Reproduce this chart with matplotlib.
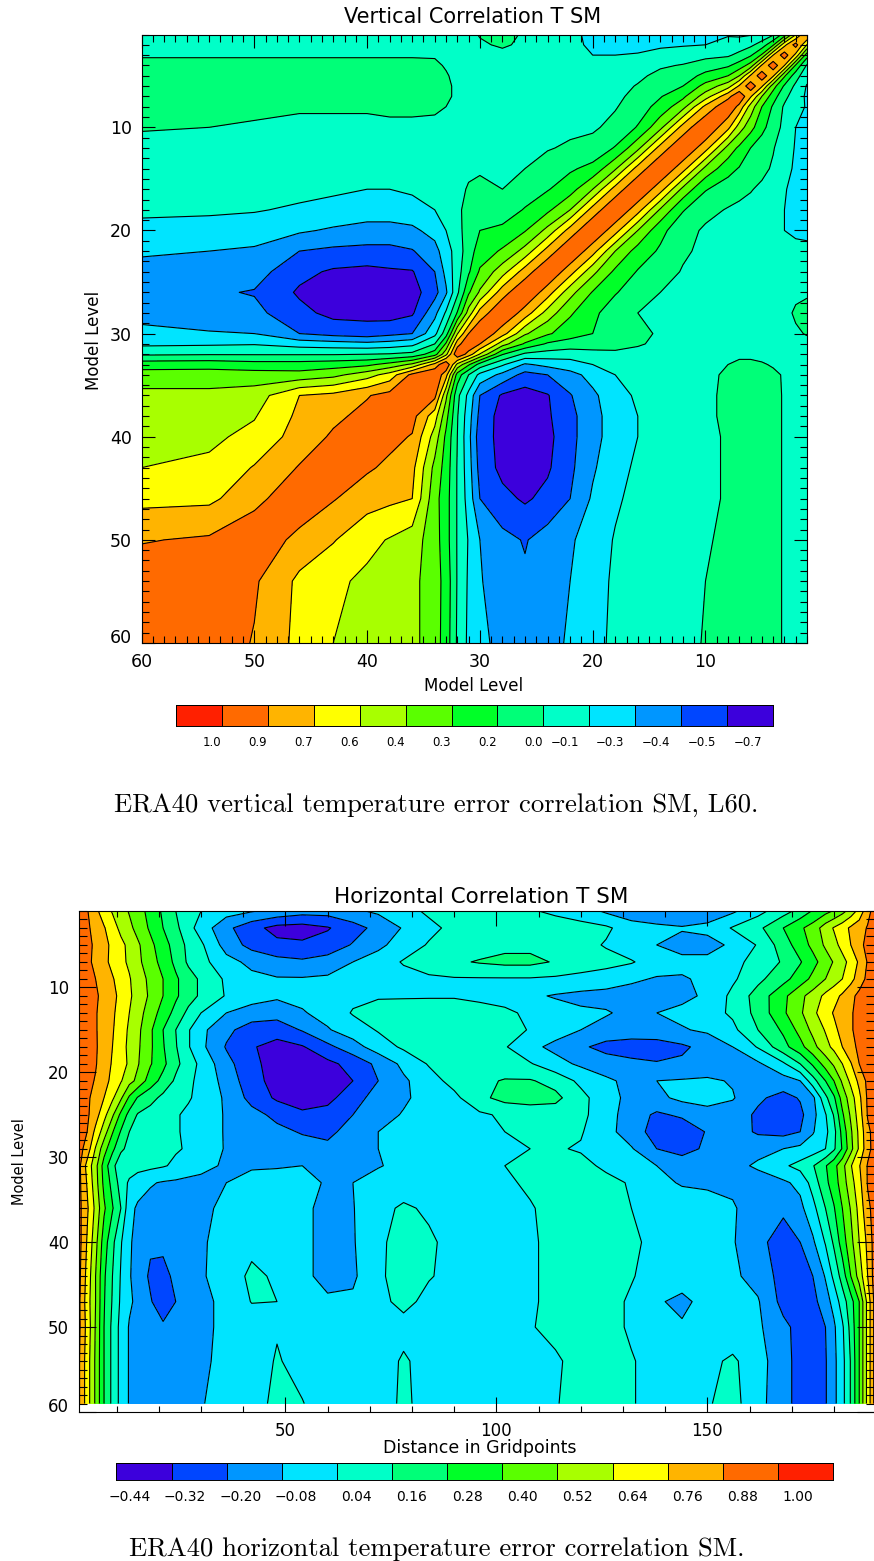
import numpy as np
import matplotlib
matplotlib.use("Agg")
import matplotlib.pyplot as plt
from matplotlib.colors import ListedColormap, BoundaryNorm
from matplotlib.ticker import FixedLocator

W, H = 874, 1561
band_colors = ['#3c00dc', '#0046ff', '#0096ff', '#00e4ff', '#00ffc8', '#00ff78', '#00ff28',
               '#5aff00', '#a8ff00', '#ffff00', '#ffb400', '#ff6a00', '#ff2000']

# ---- vertical correlation (symmetric: rows give x = level <= y)
vert_nodes = [1,2,3,4,5,6,7,8,10,12,14,16,18,20,22,24,26,28,30,31,32,33,34,36,38,40,43,46,50,54,60]
vert_levels = [-.70,-.56,-.42,-.28,-.14,0,.14,.28,.42,.56,.70,.84,.98,1.1]
vert_labels = ['1.0','0.9','0.7','0.6','0.4','0.3','0.2','0.0','\u22120.1','\u22120.3','\u22120.4','\u22120.5','\u22120.7']
vert_rows = [
 [.86],
 [.55,.90],
 [.20,.66,.92],
 [-.02,.26,.70,.93],
 [-.10,.06,.30,.72,.93],
 [-.15,-.03,.12,.34,.72,.93],
 [-.16,-.08,.04,.20,.42,.72,.95],
 [-.15,-.10,-.02,.12,.28,.50,.80,.95],
 [-.15,-.14,-.04,.07,.18,.33,.49,.74,.97],
 [-.18,-.15,-.08,.01,.07,.14,.25,.37,.76,.97],
 [-.19,-.16,-.10,-.02,.04,.08,.13,.19,.38,.76,.97],
 [-.20,-.18,-.13,-.07,-.03,.01,.04,.07,.15,.38,.76,.97],
 [-.20,-.20,-.14,-.11,-.08,-.05,-.03,-.01,.04,.15,.40,.76,.97],
 [-.16,-.16,-.14,-.11,-.09,-.07,-.06,-.05,-.02,.05,.18,.42,.76,.97],
 [-.12,-.11,-.10,-.09,-.08,-.07,-.06,-.05,-.03,.02,.12,.22,.42,.76,.97],
 [-.07,-.07,-.07,-.08,-.07,-.06,-.05,-.05,-.04,-.01,.06,.13,.25,.46,.76,.97],
 [-.02,-.03,-.04,-.05,-.05,-.05,-.05,-.05,-.05,-.04,.00,.07,.15,.27,.47,.77,.97],
 [.05,.02,-.04,-.06,-.06,-.06,-.06,-.06,-.06,-.05,-.03,.00,.07,.17,.30,.50,.78,.97],
 [.01,-.02,-.04,-.05,-.06,-.07,-.07,-.07,-.06,-.04,-.01,.02,.09,.14,.20,.30,.44,.76,.97],
 [-.04,-.05,-.05,-.06,-.06,-.07,-.07,-.07,-.06,-.04,-.02,.01,.05,.07,.08,.12,.26,.48,.84,.97],
 [-.05,-.05,-.05,-.04,-.03,-.02,-.02,-.03,-.05,-.05,-.04,-.03,-.03,-.05,-.08,-.06,-.03,.15,.55,.78,.97],
 [-.05,-.04,-.03,-.01,.01,.02,.02,.00,-.04,-.05,-.06,-.06,-.09,-.14,-.20,-.24,-.30,-.12,.08,.30,.52,.97],
 [-.05,-.03,-.01,.02,.04,.05,.04,.02,-.03,-.05,-.07,-.09,-.14,-.23,-.33,-.42,-.47,-.32,-.18,.00,.22,.75,.97],
 [-.05,-.03,-.01,.03,.05,.06,.05,.03,-.03,-.06,-.09,-.12,-.19,-.31,-.43,-.57,-.62,-.58,-.42,-.18,.04,.45,.88,.97],
 [-.05,-.03,-.01,.03,.05,.06,.05,.02,-.02,-.06,-.10,-.14,-.21,-.33,-.46,-.58,-.63,-.62,-.46,-.22,.01,.33,.62,.89,.97],
 [-.05,-.03,-.01,.03,.05,.06,.05,.01,-.02,-.06,-.10,-.14,-.21,-.33,-.46,-.60,-.63,-.60,-.50,-.24,.00,.25,.50,.83,.88,.97],
 [-.05,-.03,-.01,.03,.05,.06,.05,.01,-.02,-.05,-.09,-.12,-.18,-.30,-.45,-.58,-.63,-.60,-.47,-.22,-.01,.22,.38,.74,.81,.86,.96],
 [-.05,-.03,-.01,.03,.05,.06,.04,.01,-.02,-.05,-.08,-.10,-.16,-.26,-.42,-.52,-.58,-.52,-.42,-.20,-.01,.20,.33,.70,.73,.76,.85,.96],
 [-.05,-.03,-.01,.03,.05,.06,.05,.02,-.01,-.04,-.07,-.09,-.13,-.21,-.30,-.36,-.43,-.38,-.28,-.15,-.01,.20,.34,.49,.55,.60,.71,.79,.96],
 [-.05,-.03,-.01,.03,.05,.06,.05,.03,.00,-.04,-.07,-.09,-.12,-.19,-.28,-.34,-.40,-.35,-.27,-.16,-.01,.23,.34,.46,.50,.53,.59,.67,.86,.96],
 [-.05,-.03,-.01,.03,.05,.06,.05,.04,.01,-.04,-.07,-.09,-.12,-.17,-.26,-.33,-.38,-.33,-.24,-.17,-.02,.22,.34,.46,.50,.53,.56,.66,.83,.93,.97],
]

# ---- horizontal correlation
horiz_levels = [-.44,-.32,-.20,-.08,.04,.16,.28,.40,.52,.64,.76,.88,1.0,1.1]
horiz_labels = ['\u22120.44','\u22120.32','\u22120.20','\u22120.08','0.04','0.16','0.28','0.40','0.52','0.64','0.76','0.88','1.00']
horiz_dist = [1,3,5,7,9,11,13,15,18,21,24,27,30,36,42,48,54,60,66,72,78,84,90,96,102,108,114,120,126,132,138,144,150,156,162,168,172,175,178,180,182,184,186,188,189.5]
horiz_level = [1,3,5,7,9,11,13,15,17,19,21,23,25,27,29,31,33,36,40,44,47,50,54,59]
horiz_vals = [
 [.96,.89,.79,.70,.63,.57,.51,.45,.36,.26,.16,.10,.04,-.03,-.07,-.11,-.15,-.15,-.10,-.06,.00,.06,.09,.10,.08,.05,.02,-.02,-.10,-.16,-.18,-.18,-.15,-.10,.00,.11,.20,.29,.36,.41,.48,.57,.68,.84,.92],
 [.95,.90,.84,.77,.69,.61,.55,.48,.38,.28,.19,.08,-.01,-.17,-.28,-.36,-.37,-.33,-.25,-.16,-.07,.01,.07,.09,.10,.10,.09,.08,.06,-.02,-.05,-.07,-.05,.05,.13,.28,.38,.45,.58,.65,.71,.78,.83,.89,.93],
 [.94,.91,.86,.80,.73,.67,.61,.54,.43,.33,.23,.13,.06,-.13,-.24,-.29,-.30,-.27,-.19,-.11,-.02,.05,.08,.10,.13,.13,.11,.08,.03,-.03,-.08,-.12,-.12,-.06,.05,.22,.34,.43,.54,.60,.68,.76,.84,.92,.95],
 [.95,.91,.85,.79,.73,.67,.62,.55,.45,.36,.25,.14,.08,-.04,-.11,-.16,-.18,-.15,-.08,-.02,.05,.10,.14,.17,.19,.19,.15,.11,.08,.05,-.02,-.05,-.05,-.01,.10,.17,.27,.36,.46,.53,.60,.68,.78,.89,.95],
 [.95,.92,.88,.82,.77,.71,.65,.58,.49,.40,.30,.21,.14,.02,-.05,-.07,-.07,-.06,-.04,-.02,.00,.02,.03,.03,.03,.03,.02,.00,-.02,-.06,-.09,-.09,-.06,.02,.13,.24,.34,.43,.52,.58,.64,.72,.82,.91,.96],
 [.96,.93,.90,.84,.79,.73,.66,.59,.50,.40,.30,.21,.14,.03,-.03,-.06,-.05,-.02,.01,.03,.03,.03,.03,.01,-.02,-.06,-.09,-.11,-.12,-.13,-.13,-.11,-.06,.07,.21,.37,.49,.57,.67,.72,.78,.85,.91,.94,.96],
 [.96,.93,.89,.83,.78,.71,.64,.57,.46,.35,.24,.13,.04,-.08,-.13,-.15,-.09,-.04,.05,.08,.09,.10,.10,.09,.07,.01,-.03,-.06,-.07,-.11,-.08,-.05,-.01,.06,.20,.38,.50,.61,.71,.77,.82,.87,.91,.94,.96],
 [.96,.93,.89,.83,.77,.70,.62,.55,.42,.28,.16,.05,-.05,-.17,-.26,-.27,-.19,-.09,-.02,.05,.08,.10,.11,.11,.10,.03,-.03,-.08,-.12,-.13,-.12,-.09,-.06,.01,.16,.30,.44,.55,.65,.73,.80,.87,.91,.94,.96],
 [.96,.93,.89,.84,.76,.69,.61,.54,.42,.29,.17,.05,-.05,-.21,-.31,-.36,-.33,-.23,-.13,-.02,.06,.10,.11,.09,.05,-.05,-.11,-.18,-.24,-.26,-.26,-.22,-.16,-.08,.05,.24,.36,.48,.60,.67,.76,.85,.90,.94,.96],
 [.96,.92,.89,.81,.75,.69,.62,.53,.41,.31,.19,.10,.01,-.16,-.29,-.37,-.39,-.35,-.28,-.17,-.05,.05,.09,.09,.08,.05,-.04,-.10,-.14,-.17,-.19,-.18,-.16,-.13,-.10,.02,.16,.30,.45,.54,.64,.75,.88,.93,.96],
 [.95,.92,.87,.80,.73,.65,.56,.49,.34,.24,.14,.07,.00,-.12,-.28,-.36,-.41,-.39,-.32,-.20,-.10,-.01,.08,.13,.17,.17,.12,.01,-.06,-.11,-.08,-.07,-.06,-.09,-.13,-.13,-.08,.11,.28,.40,.54,.67,.79,.91,.95],
 [.94,.90,.84,.76,.66,.54,.38,.27,.20,.13,.09,.05,.01,-.10,-.24,-.34,-.42,-.36,-.24,-.16,-.10,-.03,.01,.13,.20,.21,.19,.08,-.04,-.11,-.11,-.05,-.04,-.07,-.18,-.24,-.19,-.11,.13,.26,.45,.58,.73,.90,.95],
 [.94,.90,.81,.68,.54,.37,.24,.15,.11,.08,.05,.02,-.02,-.09,-.16,-.23,-.28,-.27,-.20,-.13,-.07,-.04,-.01,.02,.06,.09,.10,.07,-.03,-.14,-.22,-.18,-.12,-.14,-.22,-.27,-.23,-.12,.03,.17,.38,.54,.70,.89,.93],
 [.93,.88,.73,.58,.41,.27,.16,.13,.10,.07,.05,.02,-.02,-.09,-.14,-.17,-.21,-.23,-.15,-.08,-.06,-.04,-.02,.01,.04,.08,.09,.05,-.04,-.14,-.25,-.28,-.19,-.13,-.22,-.24,-.20,-.09,.01,.12,.32,.50,.67,.85,.92],
 [.93,.83,.63,.45,.31,.18,.13,.11,.09,.07,.05,.03,-.01,-.09,-.12,-.14,-.15,-.17,-.14,-.08,-.06,-.04,-.02,.00,.02,.04,.05,.03,-.03,-.07,-.20,-.26,-.17,-.11,-.10,-.08,-.05,-.02,.04,.14,.29,.48,.66,.84,.92],
 [.92,.72,.56,.35,.19,.09,.10,.08,.07,.05,.02,-.02,-.06,-.09,-.09,-.09,-.08,-.09,-.09,-.085,-.06,-.04,-.02,.01,.04,.07,.08,.07,.02,-.05,-.08,-.11,-.11,-.10,-.07,.02,.08,.15,.27,.36,.48,.63,.75,.89,.92],
 [.92,.75,.57,.37,.24,.11,.02,-.02,-.07,-.09,-.10,-.11,-.10,-.08,-.05,-.03,-.05,-.09,-.08,-.05,-.03,-.02,-.01,.00,.02,.06,.08,.09,.07,.03,-.05,-.09,-.10,-.10,-.11,-.10,-.05,.09,.25,.34,.46,.59,.72,.89,.92],
 [.92,.78,.61,.42,.29,.16,-.04,-.10,-.12,-.13,-.13,-.12,-.10,-.06,-.04,-.03,-.05,-.12,-.085,.00,.06,.02,-.01,.00,.01,.03,.08,.10,.11,.04,.00,-.02,-.03,-.07,-.13,-.18,-.11,.00,.16,.27,.40,.53,.68,.85,.92],
 [.93,.75,.56,.34,.19,.05,-.06,-.13,-.18,-.17,-.15,-.12,-.09,-.05,.00,-.01,-.05,-.12,-.09,.02,.08,.06,.00,-.01,.00,.02,.08,.12,.12,.06,.01,-.01,-.03,-.07,-.17,-.25,-.20,-.10,.05,.18,.34,.48,.64,.79,.92],
 [.92,.72,.52,.30,.16,.03,-.07,-.13,-.22,-.24,-.17,-.12,-.09,-.04,.07,.02,-.05,-.12,-.10,.02,.09,.05,.00,-.01,.00,.02,.08,.13,.12,.05,-.02,-.04,-.05,-.06,-.12,-.25,-.29,-.20,-.07,.07,.21,.40,.57,.76,.92],
 [.91,.70,.52,.29,.15,.02,-.06,-.11,-.19,-.27,-.20,-.14,-.11,-.05,.045,.04,-.05,-.06,-.06,.00,.08,.00,-.03,-.03,-.01,.02,.08,.10,.09,.02,-.07,-.10,-.05,-.05,-.07,-.24,-.26,-.24,-.13,-.04,.10,.23,.40,.68,.89],
 [.91,.72,.51,.28,.13,.00,-.09,-.12,-.16,-.18,-.16,-.13,-.11,-.05,-.03,.03,-.03,-.05,-.05,-.02,-.01,-.02,-.03,-.03,-.01,.03,.08,.10,.09,.02,-.04,-.07,-.04,-.04,-.06,-.17,-.24,-.26,-.20,-.10,.02,.20,.40,.68,.89],
 [.90,.70,.50,.28,.13,.00,-.09,-.11,-.14,-.15,-.14,-.13,-.10,-.05,-.02,.05,.00,-.03,-.03,-.04,.06,-.02,-.03,-.03,-.02,-.01,.02,.09,.09,.05,-.01,-.02,.01,.06,-.03,-.16,-.24,-.26,-.21,-.11,.00,.17,.40,.68,.89],
 [.90,.70,.50,.28,.13,.00,-.09,-.11,-.13,-.14,-.13,-.12,-.085,-.05,-.01,.07,.045,-.02,-.03,-.04,.07,-.02,-.03,-.03,-.02,-.01,.03,.10,.10,.05,-.01,-.01,.03,.08,-.04,-.16,-.24,-.26,-.21,-.11,.00,.17,.40,.68,.89],
]


def fx(p):
    return p / W


def fy(p):
    return 1 - p / H


def add_axes(l, t, r, b):
    return fig.add_axes([fx(l), fy(b), (r - l) / W, (b - t) / H])


def colorbar(l, t, r, b, colors, labels, offs_neg, offs_pos, size):
    ax = add_axes(l, t, r, b)
    n = len(colors)
    cmap = ListedColormap(colors)
    ax.pcolormesh(np.arange(n + 1), [0, 1], np.arange(n)[None, :], cmap=cmap,
                  norm=BoundaryNorm(np.arange(n + 1) - .5, n), edgecolors='k', linewidth=0.7)
    pos = [i + (offs_neg if lab.startswith('\u2212') else offs_pos) for i, lab in enumerate(labels)]
    ax.set_xticks(pos, labels, fontsize=size)
    ax.set_yticks([])
    ax.tick_params(axis='x', length=0, pad=7)
    ax.set_xlim(0, n)
    ax.set_ylim(0, 1)
    for s in ax.spines.values():
        s.set_linewidth(.7)
    return ax


plt.rcParams['font.family'] = ['DejaVu Sans']
fig = plt.figure(figsize=(W / 100, H / 100), dpi=100)

# ---- chart 1
ax1 = add_axes(141.5, 34.5, 807, 643)
n = len(vert_nodes)
M = np.zeros((n, n))
for i, row in enumerate(vert_rows):
    M[i, :i + 1] = row
    M[:i + 1, i] = row
ax1.contourf(vert_nodes, vert_nodes, M, levels=vert_levels, colors=band_colors)
ax1.contour(vert_nodes, vert_nodes, M, levels=vert_levels[1:-1], colors='k', linewidths=0.8,
            negative_linestyles='solid')
ax1.set_xlim(60, 1)
ax1.set_ylim(60, 1)
ax1.set_xticks([60, 50, 40, 30, 20, 10])
ax1.set_yticks([10, 20, 30, 40, 50, 60])
ax1.xaxis.set_minor_locator(FixedLocator(np.arange(1, 61)))
ax1.yaxis.set_minor_locator(FixedLocator(np.arange(1, 61)))
ax1.tick_params(which='major', direction='in', length=9.5, width=.8, top=True, right=True, labelsize=12.5, pad=7)
ax1.tick_params(which='minor', direction='in', length=5, width=.8, top=True, right=True)
ax1.get_yticklabels()[-1].set_verticalalignment('baseline')
fig.text(fx(473), fy(17), 'Vertical Correlation T SM', ha='center', va='center', fontsize=15)
fig.text(fx(474), fy(686), 'Model Level', ha='center', va='center', fontsize=12)
fig.text(fx(94), fy(340), 'Model Level', ha='center', va='center', rotation=90, fontsize=12)
colorbar(176, 705, 773, 726, band_colors[::-1], vert_labels, .46, .78, 8.5)
fig.text(fx(436), fy(805), 'ERA40 vertical temperature error correlation SM, L60.',
         ha='center', va='center', fontsize=19.2, family='cmr10')

# ---- chart 2
ax2 = add_axes(78.7, 911, 874, 1412)
ax2.contourf(horiz_dist, horiz_level, horiz_vals, levels=horiz_levels, colors=band_colors)
ax2.contour(horiz_dist, horiz_level, horiz_vals, levels=horiz_levels[1:-1], colors='k', linewidths=0.8,
            negative_linestyles='solid')
ax2.set_xlim(1, 189.5)
ax2.set_ylim(60, 1)
ax2.set_xticks([50, 100, 150])
ax2.set_yticks([10, 20, 30, 40, 50, 60])
ax2.xaxis.set_minor_locator(FixedLocator(np.arange(10, 190, 10)))
ax2.yaxis.set_minor_locator(FixedLocator(np.arange(1, 61)))
ax2.tick_params(which='major', direction='in', length=11, width=.8, top=True, right=True, labelsize=12, pad=7)
ax2.tick_params(which='major', axis='y', length=12)
ax2.tick_params(which='minor', axis='x', direction='in', length=4, width=.8, top=True)
ax2.tick_params(which='minor', axis='y', direction='in', length=6, width=.8, right=True)
ax2.get_yticklabels()[-1].set_verticalalignment('baseline')
ax2.spines['right'].set_visible(False)
fig.text(fx(481), fy(897), 'Horizontal Correlation T SM', ha='center', va='center', fontsize=15.5)
fig.text(fx(480), fy(1448), 'Distance in Gridpoints', ha='center', va='center', fontsize=12.5)
fig.text(fx(20), fy(1162), 'Model Level', ha='center', va='center', rotation=90, fontsize=10.5)
colorbar(116.5, 1463, 833, 1480, band_colors, horiz_labels, .245, .36, 10)
fig.text(fx(437), fy(1549), 'ERA40 horizontal temperature error correlation SM.',
         ha='center', va='center', fontsize=19.2, family='cmr10')

fig.savefig('out.png', dpi=100)
